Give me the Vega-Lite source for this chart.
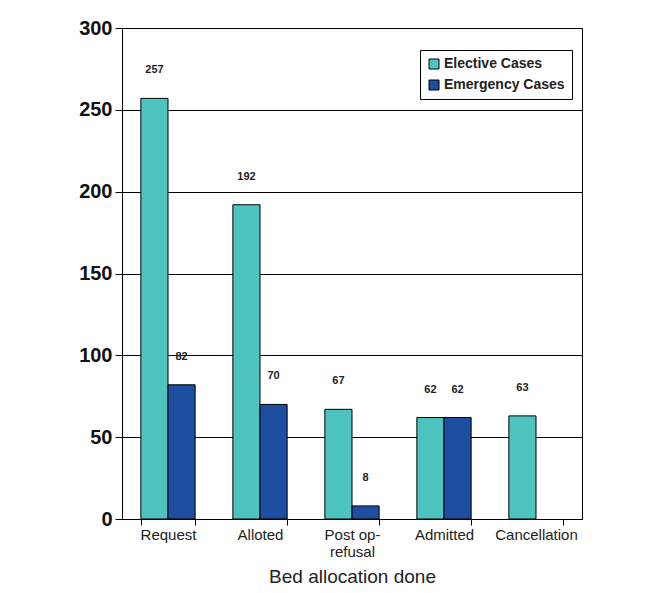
{
  "$schema": "https://vega.github.io/schema/vega-lite/v6.json",
  "width": 460,
  "height": 491,
  "autosize": {"type": "none"},
  "padding": {"left": 122, "top": 28, "right": 69, "bottom": 74},
  "background": "white",
  "config": {
    "font": "Liberation Sans",
    "view": {"stroke": "black", "strokeWidth": 1}
  },
  "data": {
    "values": [
      {"category": "Request", "series": "Elective Cases", "value": 257},
      {"category": "Request", "series": "Emergency Cases", "value": 82},
      {"category": "Alloted", "series": "Elective Cases", "value": 192},
      {"category": "Alloted", "series": "Emergency Cases", "value": 70},
      {"category": "Post op-refusal", "series": "Elective Cases", "value": 67},
      {"category": "Post op-refusal", "series": "Emergency Cases", "value": 8},
      {"category": "Admitted", "series": "Elective Cases", "value": 62},
      {"category": "Admitted", "series": "Emergency Cases", "value": 62},
      {"category": "Cancellation", "series": "Elective Cases", "value": 63}
    ]
  },
  "encoding": {
    "x": {
      "field": "category",
      "type": "nominal",
      "sort": ["Request", "Alloted", "Post op-refusal", "Admitted", "Cancellation"],
      "scale": {"paddingInner": 0.41, "paddingOuter": 0.205},
      "axis": {
        "labelAngle": 0,
        "tickBand": "extent",
        "tickColor": "black",
        "tickSize": 6,
        "domainColor": "black",
        "labelFontSize": 15,
        "labelColor": "#222222",
        "labelPadding": 2,
        "labelLineHeight": 17,
        "labelExpr": "datum.label == 'Post op-refusal' ? ['Post op-', 'refusal'] : datum.label",
        "title": "Bed allocation done",
        "titleFontSize": 19,
        "titleFontWeight": "normal",
        "titleColor": "#222222",
        "titlePadding": 8
      }
    },
    "xOffset": {
      "field": "series",
      "type": "nominal",
      "sort": ["Elective Cases", "Emergency Cases"],
      "scale": {"paddingInner": 0, "paddingOuter": 0}
    },
    "y": {
      "field": "value",
      "type": "quantitative",
      "scale": {"domain": [0, 300], "nice": false},
      "axis": {
        "values": [0, 50, 100, 150, 200, 250, 300],
        "grid": true,
        "gridColor": "black",
        "gridOpacity": 1,
        "domainColor": "black",
        "tickColor": "black",
        "tickSize": 7,
        "labelFontSize": 20,
        "labelFontWeight": "bold",
        "labelColor": "#111111",
        "labelPadding": 3,
        "title": null
      }
    }
  },
  "layer": [
    {
      "mark": {"type": "bar", "stroke": "black", "strokeWidth": 1},
      "encoding": {
        "color": {
          "field": "series",
          "type": "nominal",
          "scale": {"domain": ["Elective Cases", "Emergency Cases"], "range": ["#4EC4C1", "#1E4E9F"]},
          "legend": {
            "orient": "none",
            "legendX": 298,
            "legendY": 22,
            "title": null,
            "strokeColor": "black",
            "fillColor": "white",
            "padding": 7,
            "symbolType": "square",
            "symbolStrokeColor": "black",
            "symbolStrokeWidth": 1,
            "symbolSize": 100,
            "labelFontSize": 14,
            "labelFontWeight": "bold",
            "labelColor": "#222222",
            "labelOffset": 3,
            "rowPadding": 7
          }
        }
      }
    },
    {
      "mark": {"type": "text", "dy": -28, "fontSize": 11, "fontWeight": "bold", "color": "#222222"},
      "encoding": {
        "text": {"field": "value", "type": "quantitative"}
      }
    }
  ]
}
